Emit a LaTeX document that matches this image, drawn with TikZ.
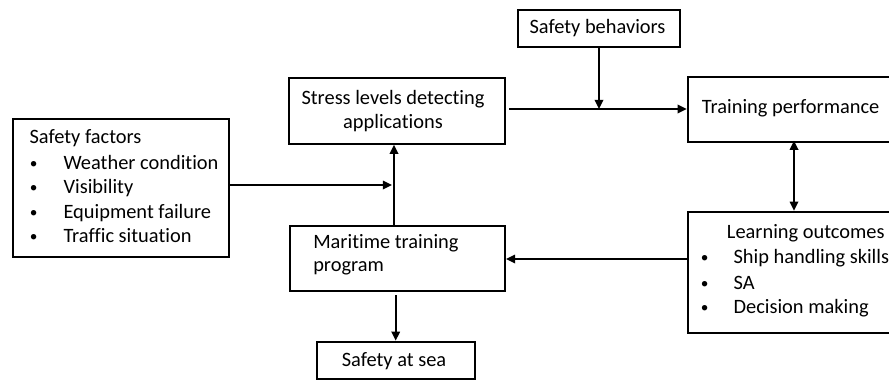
\documentclass[tikz,border=0pt]{standalone}
\usepackage{fontspec}
\setmainfont{Carlito}[Ligatures=NoCommon]
\usetikzlibrary{arrows.meta,calc}
\begin{document}
\begin{tikzpicture}[x=0.75pt,y=-0.75pt,
  box/.style={draw=black,line width=1.5pt,rectangle,inner sep=0pt,anchor=north west},
  txt/.style={anchor=base west,inner sep=0pt,font=\fontsize{15.3pt}{18pt}\selectfont},
  ctxt/.style={anchor=base,inner sep=0pt,font=\fontsize{15.3pt}{18pt}\selectfont},
  bul/.style={anchor=base west,inner sep=0pt,font=\fontsize{11.5pt}{13pt}\selectfont},
  conn/.style={line width=1.5pt,-{Triangle[length=6.8pt,width=6.3pt]}},
  biconn/.style={line width=1.5pt,{Triangle[length=6.8pt,width=6.3pt]}-{Triangle[length=6.8pt,width=6.3pt]}}]
\useasboundingbox (0,0) rectangle (889,380);
\clip (0,0) rectangle (889,380);
% boxes
\node[box,minimum width=215.7*0.75pt,minimum height=138.3*0.75pt] (sf) at (12.3,117.7) {};
\node[box,minimum width=216*0.75pt,minimum height=65.7*0.75pt] (st) at (288,77) {};
\node[box,minimum width=215*0.75pt,minimum height=65*0.75pt] (mt) at (289,225) {};
\node[box,minimum width=158*0.75pt,minimum height=37.3*0.75pt] (sea) at (315.7,340.7) {};
\node[box,minimum width=161.7*0.75pt,minimum height=36.4*0.75pt] (sb) at (517.3,9.3) {};
\node[box,minimum width=260*0.75pt,minimum height=64.4*0.75pt] (tp) at (686.7,76.3) {};
\node[box,minimum width=260*0.75pt,minimum height=121.6*0.75pt] (lo) at (686.7,210.7) {};
% texts
\node[txt] (sf0) at (29.3,143.3) {Safety factors};
\node[bul] (sfb1) at (29.5,168.3) {•};
\node[txt] (sf1) at (63.3,169.3) {Weather condition};
\node[bul] (sfb2) at (29.5,192.3) {•};
\node[txt] (sf2) at (63.3,193.3) {Visibility};
\node[bul] (sfb3) at (29.5,217.3) {•};
\node[txt] (sf3) at (63.3,218.3) {Equipment failure};
\node[bul] (sfb4) at (29.5,241.3) {•};
\node[txt] (sf4) at (63.3,242.3) {Traffic situation};
\node[ctxt] (st1) at (393,104) {Stress levels detecting};
\node[ctxt] (st2) at (393,128.3) {applications};
\node[txt] (mt1) at (313,248.3) {Maritime training};
\node[txt] (mt2) at (313,271.7) {program};
\node[ctxt] (sea1) at (394,366.7) {Safety at sea};
\node[ctxt] (sb1) at (597.5,33.3) {Safety behaviors};
\node[txt] (tp1) at (701.7,113.3) {Training performance};
\node[txt] (lo0) at (726.7,238.3) {Learning outcomes};
\node[bul] (lob1) at (700.5,262.3) {•};
\node[txt] (lo1) at (733.3,263.3) {Ship handling skills};
\node[bul] (lob2) at (700.5,288) {•};
\node[txt] (lo2) at (733.3,289) {SA};
\node[bul] (lob3) at (700.5,312.3) {•};
\node[txt] (lo3) at (733.3,313.3) {Decision making};
% connectors
\coordinate (vx) at (394,185);
\coordinate (j1) at (392,185);
\coordinate (j2) at (599,109);
\coordinate (tpb) at (794,140.7);
\coordinate (lot) at (794,210.7);
\coordinate (loa) at (686.7,259);
\draw[conn] (sf.east |- j1) -- (j1);
\draw[conn] (mt.north -| vx) -- (st.south -| vx);
\draw[conn,shorten <=2.5pt] (st.east |- j2) -- (tp.west |- j2);
\draw[conn] (sb.south -| j2) -- (j2);
\draw[biconn] (tpb) -- (lot);
\draw[conn] (loa) -- (mt.east |- loa);
\draw[conn,shorten <=2.5pt] (mt.south -| sea.north) -- (sea.north);
\end{tikzpicture}
\end{document}
